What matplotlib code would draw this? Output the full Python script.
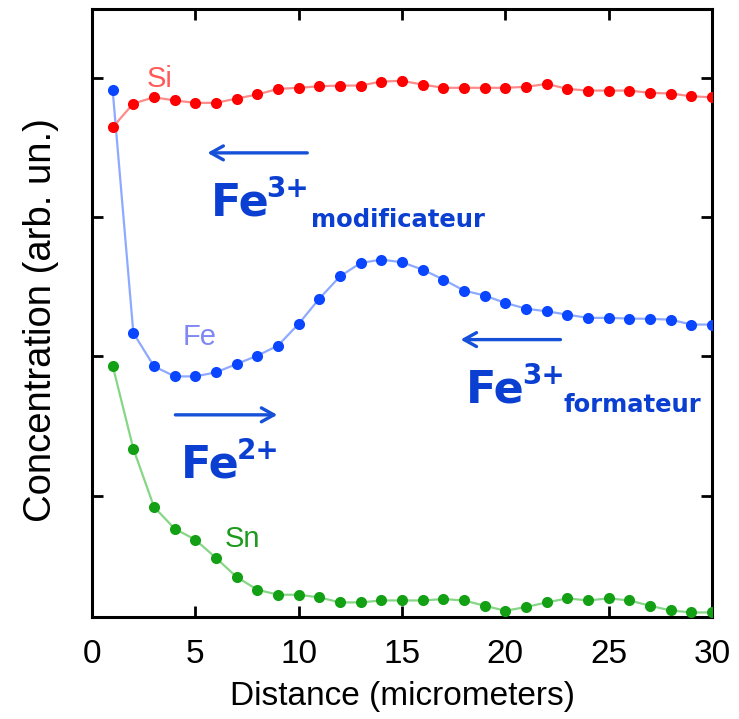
import matplotlib
matplotlib.use("Agg")
import matplotlib.pyplot as plt
import numpy as np

# distance (micrometers)
x = np.arange(1, 31)

si = [3.644, 3.814, 3.859, 3.836, 3.819, 3.819, 3.850, 3.879, 3.919, 3.927,
      3.938, 3.943, 3.943, 3.972, 3.977, 3.950, 3.927, 3.927, 3.927, 3.927,
      3.934, 3.955, 3.919, 3.907, 3.907, 3.907, 3.891, 3.886, 3.866, 3.859]

fe = [3.910, 2.168, 1.928, 1.856, 1.856, 1.885, 1.945, 2.005, 2.077, 2.233,
      2.414, 2.574, 2.670, 2.694, 2.675, 2.622, 2.551, 2.472, 2.436, 2.383,
      2.342, 2.323, 2.299, 2.276, 2.276, 2.271, 2.269, 2.263, 2.228, 2.228]

sn = [1.933, 1.337, 0.919, 0.763, 0.684, 0.553, 0.416, 0.325, 0.289, 0.289,
      0.270, 0.234, 0.234, 0.248, 0.248, 0.248, 0.258, 0.248, 0.210, 0.174,
      0.201, 0.234, 0.263, 0.248, 0.263, 0.248, 0.210, 0.176, 0.162, 0.162]

xticks = [0, 5, 10, 15, 20, 25, 30]
yticks = [1, 2, 3, 4]

txt_blue = "#0a3fd2"
arr_blue = "#1650d8"

fig = plt.figure(figsize=(7.39, 7.19), dpi=100)
ax = fig.add_axes([0.1245, 0.142, 0.839, 0.845])

ax.plot(x, si, "-", color="#ff8a8a", lw=1.6, zorder=2)
ax.plot(x, si, "o", color="#ff0000", ms=8, mec="none", zorder=3)
ax.plot(x, fe, "-", color="#8eaaff", lw=1.6, zorder=2)
ax.plot(x, fe, "o", color="#0a46ff", ms=8, mec="none", zorder=3)
ax.plot(x, sn, "-", color="#86d686", lw=1.6, zorder=2)
ax.plot(x, sn, "o", color="#14a014", ms=8, mec="none", zorder=3)

ax.set_xlim(0, 30)
ax.set_ylim(0.13, 4.49)
ax.set_xticks(xticks)
ax.set_yticks(yticks)
ax.set_yticklabels([])
ax.tick_params(direction="in", length=8, width=2, top=True, right=True,
               labelsize=24, pad=16)
for lab in ax.get_xticklabels():
    lab.set_family("Liberation Sans")
for s in ax.spines.values():
    s.set_linewidth(2.2)

ax.set_xlabel("Distance (micrometers)", fontsize=24, family="Liberation Sans", labelpad=8)
ax.set_ylabel("Concentration (arb. un.)", fontsize=27.5, family="Liberation Sans")
ax.yaxis.set_label_coords(-0.054, 0.489)

# element labels
ax.text(2.66, 3.936, "Si", color="#ff5a5a", fontsize=21, family="Liberation Sans")
ax.text(4.40, 2.084, "Fe", color="#8088f2", fontsize=21, family="Liberation Sans")
ax.text(6.43, 0.635, "Sn", color="#1e9a1e", fontsize=21, family="Liberation Sans")

# arrows
arw = dict(arrowstyle="->,head_length=0.9,head_width=0.5", color=arr_blue, lw=2.4)
ax.annotate("", xy=(5.45, 3.46), xytext=(10.55, 3.46), arrowprops=arw)
ax.annotate("", xy=(17.7, 2.12), xytext=(22.8, 2.12), arrowprops=arw)
ax.annotate("", xy=(9.1, 1.58), xytext=(3.9, 1.58), arrowprops=arw)

# ion labels
big = dict(color=txt_blue, fontsize=32, fontweight="bold", family="DejaVu Sans", va="baseline")
sup = dict(color=txt_blue, fontsize=20, fontweight="bold", family="DejaVu Sans", va="baseline")
sub = dict(color=txt_blue, fontsize=17.5, fontweight="bold", family="DejaVu Sans", va="baseline")

ax.text(5.75, 3.01, "Fe", **big)
ax.text(8.45, 3.14, "3+", **sup)
ax.text(10.6, 2.93, "modificateur", **sub)

ax.text(18.1, 1.67, "Fe", **big)
ax.text(20.8, 1.80, "3+", **sup)
ax.text(22.8, 1.60, "formateur", **sub)

ax.text(4.3, 1.13, "Fe", **big)
ax.text(7.0, 1.26, "2+", **sup)

fig.savefig("out.png", dpi=100)
